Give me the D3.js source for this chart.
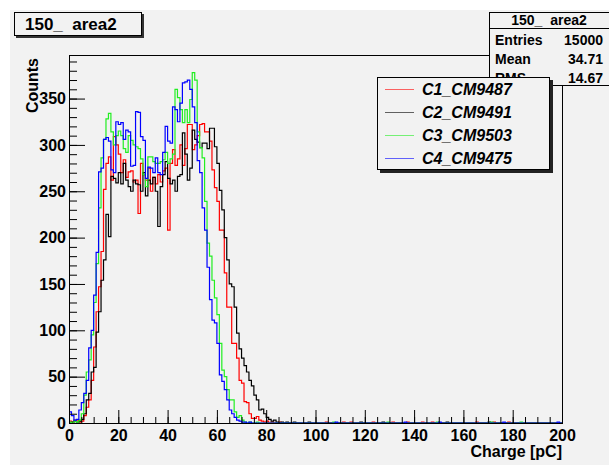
<!DOCTYPE html>
<html>
<head>
<meta charset="utf-8">
<script src="https://cdn.jsdelivr.net/npm/d3@7"></script>
<style>
  body { margin: 0; background: #ffffff; }
  text { font-family: "Liberation Sans", Arial, Helvetica, sans-serif; font-weight: bold; fill: #000; }
</style>
</head>
<body>
<div id="chart"></div>
<script>
// Tamaño del lienzo
var width = 609;
var height = 465;

// Nombres y colores de las series
var seriesNames = ["C1_CM9487", "C2_CM9491", "C3_CM9503", "C4_CM9475"];
var seriesColors = ["#ff0000", "#000000", "#22ee22", "#0000ff"];

// Cuentas por bin (bins de 1 pC, empezando en 0)
var countsC1 = [2, 1, 3, 3, 1, 2, 8, 17, 25, 46,
  82, 120, 147, 185, 252, 280, 287, 262, 309, 300,
  290, 270, 284, 265, 271, 272, 260, 262, 226, 280,
  268, 262, 275, 250, 265, 258, 268, 260, 272, 275,
  208, 280, 295, 278, 285, 300, 278, 296, 322, 322,
  295, 300, 310, 322, 323, 314, 314, 304, 273, 254,
  239, 208, 208, 162, 125, 125, 86, 86, 70, 46,
  43, 23, 22, 10, 5, 5, 7, 3, 2, 1,
  2, 0, 1, 0, 0, 1, 0, 0, 0, 0];
var countsC2 = [0, 1, 2, 1, 2, 4, 10, 25, 32, 55,
  60, 98, 120, 154, 176, 225, 201, 266, 264, 259,
  270, 258, 280, 262, 255, 250, 262, 258, 257, 250,
  270, 245, 262, 258, 265, 250, 212, 255, 268, 282,
  264, 258, 262, 250, 266, 268, 313, 290, 262, 275,
  316, 306, 303, 297, 302, 302, 296, 318, 318, 298,
  280, 251, 230, 200, 176, 150, 147, 125, 97, 80,
  70, 62, 55, 46, 40, 30, 25, 14, 15, 10,
  6, 4, 2, 3, 1, 0, 1, 0, 1, 0];
var countsC3 = [1, 0, 2, 1, 3, 10, 30, 55, 68, 95,
  130, 172, 232, 286, 306, 328, 334, 314, 300, 310,
  315, 310, 296, 292, 310, 305, 300, 298, 296, 285,
  268, 255, 287, 287, 282, 280, 280, 282, 284, 292,
  280, 285, 290, 360, 351, 338, 324, 338, 324, 349,
  378, 370, 314, 297, 286, 239, 194, 180, 154, 135,
  117, 86, 57, 50, 36, 25, 25, 12, 6, 8,
  3, 1, 0, 1, 0, 0, 1, 0, 0, 0,
  0, 0, 0, 0, 0, 0, 0, 0, 0, 0];
var countsC4 = [12, 8, 3, 4, 14, 22, 32, 46, 81, 100,
  138, 184, 271, 275, 306, 308, 304, 273, 270, 325,
  322, 324, 306, 316, 314, 277, 278, 336, 335, 309,
  305, 264, 276, 275, 270, 286, 270, 268, 292, 320,
  304, 302, 341, 338, 325, 345, 367, 368, 370, 360,
  341, 324, 283, 270, 232, 208, 168, 133, 111, 108,
  86, 52, 45, 36, 25, 14, 10, 6, 3, 2,
  1, 1, 0, 1, 0, 0, 0, 0, 0, 0,
  0, 0, 0, 0, 0, 0, 0, 0, 0, 0];

// Bins sueltos con una sola cuenta en la cola
var tailC1 = [104, 111, 114, 123, 131, 137, 143, 147, 165, 172, 178];
var tailC2 = [91, 97, 118, 127, 153, 170];
var tailC3 = [107, 129, 149, 171, 183];
var tailC4 = [108, 136, 150, 176, 198];

// Ejes
var xTicks = [0, 20, 40, 60, 80, 100, 120, 140, 160, 180, 200];
var yTicks = [0, 50, 100, 150, 200, 250, 300, 350];

// Caja de estadisticas
var statsTitle = "150_  area2";
var statsLabels = ["Entries", "Mean", "RMS"];
var statsValues = ["15000", "34.71", "14.67"];

var nBins = 200;

function fullCounts(head, tail) {
  var c = [];
  for (var i = 0; i < nBins; i++) c.push(i < head.length ? head[i] : 0);
  tail.forEach(function(b) { c[b] += 1; });
  return c;
}

var series = [
  fullCounts(countsC1, tailC1),
  fullCounts(countsC2, tailC2),
  fullCounts(countsC3, tailC3),
  fullCounts(countsC4, tailC4)
];

var svg = d3.select("#chart")
  .append("svg")
  .attr("width", width)
  .attr("height", height);

// Fondo gris del pad
svg.append("rect")
  .attr("x", 10).attr("y", 10)
  .attr("width", width - 10).attr("height", height - 10)
  .attr("fill", "#f2f2f2");

var x = d3.scaleLinear().domain([0, 200]).range([69, 562]);
var y = d3.scaleLinear().domain([0, 397]).range([423, 55]);

// Histogramas en escalones
var line = d3.line()
  .x(function(d) { return x(d[0]); })
  .y(function(d) { return y(d[1]); });

series.forEach(function(c, k) {
  var pts = [];
  c.forEach(function(v, i) {
    pts.push([i, v]);
    pts.push([i + 1, v]);
  });
  svg.append("path")
    .attr("d", line(pts))
    .attr("fill", "none")
    .attr("stroke", seriesColors[k])
    .attr("stroke-width", 1.2);
});

// Eje Y: marcas menores, mayores y etiquetas
svg.append("g")
  .attr("transform", "translate(69,0)")
  .call(d3.axisLeft(y).tickValues(d3.range(0, 397, 10)).tickSizeInner(-8).tickSizeOuter(0).tickFormat(""))
  .call(function(g) { g.select(".domain").remove(); });

svg.append("g")
  .attr("transform", "translate(69,0)")
  .call(d3.axisLeft(y).tickValues(yTicks).tickSizeInner(-16).tickSizeOuter(0).tickPadding(3))
  .call(function(g) {
    g.select(".domain").remove();
    g.selectAll("text").style("font-size", "16px").style("font-family", null);
  });

// Eje X
svg.append("g")
  .attr("transform", "translate(0,423)")
  .call(d3.axisBottom(x).tickValues(d3.range(0, 201, 5)).tickSizeInner(-6).tickSizeOuter(0).tickFormat(""))
  .call(function(g) { g.select(".domain").remove(); });

svg.append("g")
  .attr("transform", "translate(0,423)")
  .call(d3.axisBottom(x).tickValues(xTicks).tickSizeInner(-13).tickSizeOuter(0).tickPadding(7))
  .call(function(g) {
    g.select(".domain").remove();
    g.selectAll("text").style("font-size", "16px").style("font-family", null);
  });

// Marco
svg.append("rect")
  .attr("x", 69.5).attr("y", 55.5)
  .attr("width", 493).attr("height", 368)
  .attr("fill", "none")
  .attr("stroke", "#000");

// Titulos de ejes
svg.append("text")
  .attr("transform", "translate(38,58) rotate(-90)")
  .attr("text-anchor", "end")
  .style("font-size", "16px")
  .text("Counts");

svg.append("text")
  .attr("x", 562).attr("y", 457)
  .attr("text-anchor", "end")
  .style("font-size", "16px")
  .text("Charge [pC]");

// Caja del titulo
svg.append("rect")
  .attr("x", 16).attr("y", 14).attr("width", 128).attr("height", 24)
  .attr("fill", "#333");
svg.append("rect")
  .attr("x", 14.5).attr("y", 12.5).attr("width", 127).attr("height", 23)
  .attr("fill", "#f2f2f2").attr("stroke", "#000");
svg.append("text")
  .attr("x", 25).attr("y", 30)
  .style("font-size", "17px")
  .style("white-space", "pre")
  .text("150_  area2");

// Caja de estadisticas
var stats = svg.append("g");
stats.append("rect")
  .attr("x", 489.5).attr("y", 12.5).attr("width", 125).attr("height", 73)
  .attr("fill", "#f2f2f2").attr("stroke", "#000");
stats.append("line")
  .attr("x1", 489.5).attr("x2", 609).attr("y1", 28.5).attr("y2", 28.5)
  .attr("stroke", "#000");
stats.append("text")
  .attr("x", 549).attr("y", 25)
  .attr("text-anchor", "middle")
  .style("font-size", "14px")
  .style("white-space", "pre")
  .text(statsTitle);
statsLabels.forEach(function(s, i) {
  stats.append("text")
    .attr("x", 495).attr("y", 45 + i * 19)
    .style("font-size", "14px")
    .text(s);
  stats.append("text")
    .attr("x", 603).attr("y", 45 + i * 19)
    .attr("text-anchor", "end")
    .style("font-size", "14px")
    .text(statsValues[i]);
});

// Leyenda
var legend = svg.append("g");
legend.append("rect")
  .attr("x", 380).attr("y", 80).attr("width", 173).attr("height", 93)
  .attr("fill", "#222");
legend.append("rect")
  .attr("x", 377.5).attr("y", 77.5).attr("width", 172).attr("height", 92)
  .attr("fill", "#f2f2f2").attr("stroke", "#000");
seriesNames.forEach(function(name, i) {
  var yy = 89 + i * 23;
  legend.append("line")
    .attr("x1", 385).attr("x2", 414)
    .attr("y1", yy + 0.5).attr("y2", yy + 0.5)
    .attr("stroke", seriesColors[i])
    .attr("stroke-opacity", 0.6);
  legend.append("text")
    .attr("x", 422).attr("y", yy + 6)
    .style("font-size", "16px")
    .style("font-style", "italic")
    .text(name);
});
</script>
</body>
</html>
